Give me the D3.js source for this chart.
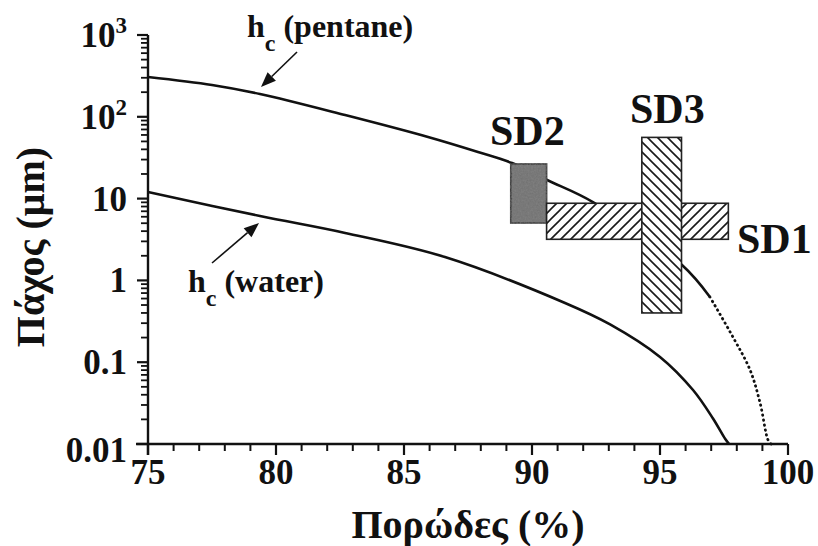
<!DOCTYPE html>
<html><head><meta charset="utf-8">
<script src="https://cdn.jsdelivr.net/npm/d3@7"></script>
<style>
body{margin:0;background:#fff}
text{font-family:"Liberation Serif","Times New Roman",serif;font-weight:bold;fill:#111}
</style>
</head><body><svg id="c" width="818" height="546"></svg>
<script>
// ---- data ----
const xTicks = [75, 80, 85, 90, 95, 100];
const yTicks = [0.01, 0.1, 1, 10, 100, 1000];
const yTickLabels = ["0.01", "0.1", "1", "10", "10^2", "10^3"];
const pentaneX = [75, 77.5, 79.375, 82.7, 85.94, 87.89, 89.22, 90.59, 92.38, 95.86, 96.95, 97.85, 98.52, 98.91, 99.22, 99.34];
const pentaneY = [307, 245, 190, 105, 56.6, 37.1, 27.2, 16.9, 9.08, 1.54, 0.627, 0.203, 0.080, 0.0317, 0.0112, 0.01];
const pentaneDotFrom = 96.95;
const waterX = [75, 79.375, 82.7, 86.6, 91.29, 93.05, 95.0, 96.29, 97.07, 97.55, 97.7];
const waterY = [12.05, 6.12, 3.80, 1.93, 0.53, 0.29, 0.116, 0.0457, 0.0205, 0.0115, 0.01];
const boxNames = ["SD2", "SD1", "SD3"];
const boxX0 = [89.17, 90.57, 94.29];
const boxX1 = [90.57, 97.67, 95.84];
const boxLo = [5.03, 3.18, 0.40];
const boxHi = [26.5, 8.77, 56];
const xTitle = "Πορώδες (%)";
const yTitle = "Πάχος (μm)";

// ---- layout ----
const svg = d3.select("#c");
const x = d3.scaleLinear().domain([75, 100]).range([148, 788]);
const y = d3.scaleLog().domain([0.01, 1000]).range([444, 35]);
const INK = "#111";

const defs = svg.append("defs");
const p1 = defs.append("pattern").attr("id", "hatchF").attr("patternUnits", "userSpaceOnUse")
  .attr("width", 10).attr("height", 10);
p1.append("rect").attr("width", 10).attr("height", 10).attr("fill", "#fff");
p1.append("path").attr("d", "M-2,2 L2,-2 M0,10 L10,0 M8,12 L12,8").attr("stroke", "#1a1a1a").attr("stroke-width", 1.6);
const p2 = defs.append("pattern").attr("id", "hatchB").attr("patternUnits", "userSpaceOnUse")
  .attr("width", 10).attr("height", 10);
p2.append("rect").attr("width", 10).attr("height", 10).attr("fill", "#fff");
p2.append("path").attr("d", "M-2,8 L2,12 M0,0 L10,10 M8,-2 L12,2").attr("stroke", "#1a1a1a").attr("stroke-width", 1.6);
const f = defs.append("filter").attr("id", "grain");
f.append("feTurbulence").attr("type", "fractalNoise").attr("baseFrequency", 0.6).attr("numOctaves", 2).attr("seed", 3).attr("result", "n");
f.append("feColorMatrix").attr("in", "n").attr("type", "matrix")
  .attr("values", "0 0 0 0 0.3  0 0 0 0 0.3  0 0 0 0 0.3  0 0 0 0.45 0").attr("result", "g");
f.append("feComposite").attr("in", "g").attr("in2", "SourceGraphic").attr("operator", "in").attr("result", "gi");
const fm = f.append("feMerge");
fm.append("feMergeNode").attr("in", "SourceGraphic");
fm.append("feMergeNode").attr("in", "gi");

// ---- axes ----
const ax = svg.append("g");
ax.append("line").attr("x1", 136).attr("x2", x(100)).attr("y1", y(0.01)).attr("y2", y(0.01))
  .attr("stroke", INK).attr("stroke-width", 2.4);
ax.append("line").attr("x1", x(75)).attr("x2", x(75)).attr("y1", y(1000)).attr("y2", y(0.01) + 11)
  .attr("stroke", INK).attr("stroke-width", 2.4);
const xMinor = d3.range(76, 100, 1).filter(d => d % 5 !== 0);
xTicks.forEach(d => {
  ax.append("line").attr("x1", x(d)).attr("x2", x(d))
    .attr("y1", y(0.01)).attr("y2", y(0.01) + 11).attr("stroke", INK).attr("stroke-width", 2.2);
});
xMinor.forEach(d => {
  ax.append("line").attr("x1", x(d)).attr("x2", x(d))
    .attr("y1", y(0.01)).attr("y2", y(0.01) + 7).attr("stroke", INK).attr("stroke-width", 2);
});
yTicks.forEach(d => {
  ax.append("line").attr("x1", x(75)).attr("x2", x(75) - 11)
    .attr("y1", y(d)).attr("y2", y(d)).attr("stroke", INK).attr("stroke-width", 2.2);
});
for (let e = -2; e < 3; e++) {
  for (let m = 2; m < 10; m++) {
    const v = m * Math.pow(10, e);
    ax.append("line").attr("x1", x(75)).attr("x2", x(75) - 7)
      .attr("y1", y(v)).attr("y2", y(v)).attr("stroke", INK).attr("stroke-width", 1.8);
  }
}

// tick labels
xTicks.forEach(d => {
  svg.append("text").attr("x", x(d)).attr("y", 484).attr("text-anchor", "middle")
    .attr("font-size", 35).text(d);
});
yTicks.forEach((d, i) => {
  const s = yTickLabels[i].split("^");
  const t = svg.append("text").attr("x", 127).attr("y", y(d) + (i === 0 ? 18 : 12))
    .attr("text-anchor", "end").attr("font-size", 35);
  t.append("tspan").text(s[0]);
  if (s[1]) t.append("tspan").attr("dy", -14).attr("font-size", 23).text(s[1]);
});

// axis titles
svg.append("text").attr("x", 468).attr("y", 538).attr("text-anchor", "middle")
  .attr("font-size", 40).text(xTitle);
svg.append("text").attr("transform", "translate(44,247) rotate(-90)").attr("text-anchor", "middle")
  .attr("font-size", 40).text(yTitle);

// ---- curves ----
const line = d3.line().x(d => x(d[0])).y(d => y(d[1])).curve(d3.curveCatmullRom.alpha(0.5));
const pent = pentaneX.map((v, i) => [v, pentaneY[i]]);
const wat = waterX.map((v, i) => [v, waterY[i]]);
svg.append("path").attr("d", line(pent.filter(d => d[0] <= pentaneDotFrom)))
  .attr("fill", "none").attr("stroke", INK).attr("stroke-width", 2.6);
svg.append("path").attr("d", line(pent.filter(d => d[0] >= pentaneDotFrom)))
  .attr("fill", "none").attr("stroke", INK).attr("stroke-width", 2.8)
  .attr("stroke-dasharray", "0.5,4.5").attr("stroke-linecap", "round");
svg.append("path").attr("d", line(wat))
  .attr("fill", "none").attr("stroke", INK).attr("stroke-width", 2.6);

// ---- boxes ----
const fills = ["#6f6f6f", "url(#hatchF)", "url(#hatchB)"];
boxNames.forEach((n, i) => {
  svg.append("rect")
    .attr("x", x(boxX0[i])).attr("y", y(boxHi[i]))
    .attr("width", x(boxX1[i]) - x(boxX0[i])).attr("height", y(boxLo[i]) - y(boxHi[i]))
    .attr("fill", fills[i]).attr("stroke", "#222").attr("stroke-width", 1.6)
    .attr("filter", i === 0 ? "url(#grain)" : null);
});
const labelPos = { SD2: [490, 145], SD3: [630, 123], SD1: [737, 253] };
boxNames.forEach(n => {
  svg.append("text").attr("x", labelPos[n][0]).attr("y", labelPos[n][1])
    .attr("font-size", 42).text(n);
});

// ---- annotations ----
function arrow(x1, y1, x2, y2) {
  const a = Math.atan2(y2 - y1, x2 - x1), L = 15, W = 6;
  const bx = x2 - L * Math.cos(a), by = y2 - L * Math.sin(a);
  svg.append("line").attr("x1", x1).attr("y1", y1).attr("x2", bx).attr("y2", by)
    .attr("stroke", INK).attr("stroke-width", 1.6);
  svg.append("path").attr("d",
    `M${x2},${y2} L${bx + W * Math.sin(a)},${by - W * Math.cos(a)} L${bx - W * Math.sin(a)},${by + W * Math.cos(a)} Z`)
    .attr("fill", INK);
}
arrow(297, 52, 261, 87);
arrow(212, 263, 259, 223);

function hc(xh, yb, rest) {
  const t = svg.append("text").attr("x", xh).attr("y", yb).attr("font-size", 32);
  t.append("tspan").text("h");
  t.append("tspan").attr("dy", 14).attr("font-size", 24).text("c");
  t.append("tspan").attr("dy", -14).text(" " + rest);
}
hc(247, 37, "(pentane)");
hc(188, 292, "(water)");
</script>
</body></html>
